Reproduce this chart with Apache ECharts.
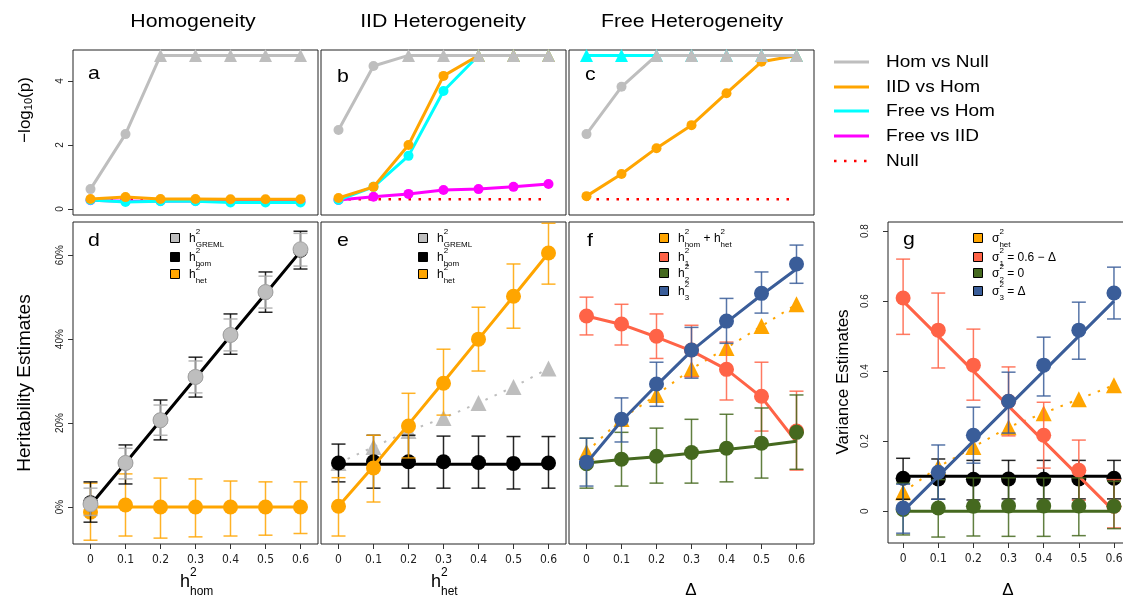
<!DOCTYPE html>
<html><head><meta charset="utf-8">
<script src="https://cdn.jsdelivr.net/npm/echarts@6/dist/echarts.min.js"></script>
<style>html,body{margin:0;padding:0;background:#fff}#c{width:1123px;height:601px}</style>
</head><body><div id="c"></div>
<script>
// ---------------- data ----------------
const xs = [0, 0.1, 0.2, 0.3, 0.4, 0.5, 0.6];
const xTickLabels = ['0', '0.1', '0.2', '0.3', '0.4', '0.5', '0.6'];
const pTicks = [0, 2, 4];
const pTickLabels = ['0', '2', '4'];
const hTicks = [0, 0.2, 0.4, 0.6];
const hTickLabels = ['0%', '20%', '40%', '60%'];
const vTicks = [0, 0.2, 0.4, 0.6, 0.8];
const vTickLabels = ['0', '0.2', '0.4', '0.6', '0.8'];
const CAP = 4.8;
const nullLine = [0.301, 0.301, 0.301, 0.301, 0.301, 0.301, 0.301];

// panel a  (-log10 p, homogeneity)
const aHomNull = [0.62, 2.34, 4.8, 4.8, 4.8, 4.8, 4.8];
const aIidHom  = [0.31, 0.37, 0.31, 0.31, 0.3, 0.3, 0.3];
const aFreeHom = [0.28, 0.22, 0.24, 0.24, 0.2, 0.2, 0.2];
const aFreeIid = [0.27, 0.24, 0.25, 0.25, 0.23, 0.23, 0.23];
// panel b  (IID heterogeneity)
const bHomNull = [2.47, 4.47, 4.8, 4.8, 4.8, 4.8, 4.8];
const bIidHom  = [0.34, 0.69, 2.0, 4.16, 4.8, 4.8, 4.8];
const bFreeHom = [0.28, 0.69, 1.66, 3.69, 4.8, 4.8, 4.8];
const bFreeIid = [0.28, 0.38, 0.47, 0.59, 0.62, 0.69, 0.78];
// panel c  (free heterogeneity)
const cHomNull = [2.34, 3.82, 4.8, 4.8, 4.8, 4.8, 4.8];
const cIidHom  = [0.4, 1.09, 1.9, 2.62, 3.62, 4.6, 4.8];
const cFreeHom = [4.8, 4.8, 4.8, 4.8, 4.8, 4.8, 4.8];

// panel d  (heritability, homogeneity)
const dGreml   = [0.007, 0.105, 0.207, 0.31, 0.41, 0.512, 0.614];
const dGremlLo = [-0.02, 0.067, 0.171, 0.272, 0.372, 0.474, 0.574];
const dGremlHi = [0.045, 0.14, 0.243, 0.348, 0.448, 0.55, 0.652];
const dHom     = [0.01, 0.105, 0.207, 0.31, 0.41, 0.512, 0.612];
const dHomLo   = [-0.036, 0.055, 0.16, 0.262, 0.364, 0.464, 0.567];
const dHomHi   = [0.06, 0.148, 0.255, 0.357, 0.46, 0.56, 0.657];
const dHomLine = [0.005, 0.105, 0.206, 0.307, 0.408, 0.508, 0.609];
const dHet     = [-0.012, 0.005, 0.0, 0.0, 0.0, 0.0, 0.0];
const dHetLo   = [-0.079, -0.069, -0.074, -0.071, -0.069, -0.067, -0.063];
const dHetHi   = [0.057, 0.079, 0.069, 0.067, 0.062, 0.06, 0.06];
const dHetLine = [0, 0, 0, 0, 0, 0, 0];
// panel e  (heritability, IID heterogeneity)
const eGreml   = [0.105, 0.143, 0.181, 0.212, 0.248, 0.286, 0.33];
const eHom     = [0.105, 0.108, 0.108, 0.108, 0.106, 0.104, 0.105];
const eHomLo   = [0.06, 0.045, 0.045, 0.045, 0.045, 0.043, 0.045];
const eHomHi   = [0.15, 0.171, 0.171, 0.169, 0.169, 0.168, 0.168];
const eHomLine = [0.102, 0.102, 0.102, 0.102, 0.102, 0.102, 0.102];
const eHet     = [0.002, 0.093, 0.193, 0.295, 0.4, 0.502, 0.605];
const eHetLo   = [-0.069, 0.012, 0.117, 0.219, 0.324, 0.426, 0.531];
const eHetHi   = [0.07, 0.171, 0.271, 0.376, 0.476, 0.579, 0.676];
const eHetLine = [0.002, 0.097, 0.197, 0.298, 0.4, 0.502, 0.605];
// panel f  (heritability, free heterogeneity)
const fSum     = [0.131, 0.21, 0.267, 0.329, 0.379, 0.431, 0.483];
const fH1      = [0.455, 0.436, 0.407, 0.374, 0.328, 0.264, 0.181];
const fH1Lo    = [0.41, 0.386, 0.354, 0.31, 0.255, 0.181, 0.088];
const fH1Hi    = [0.5, 0.483, 0.46, 0.433, 0.393, 0.345, 0.276];
const fH1Line  = [0.455, 0.435, 0.405, 0.372, 0.328, 0.262, 0.155];
const fH2      = [0.103, 0.114, 0.121, 0.13, 0.14, 0.152, 0.178];
const fH2Lo    = [0.045, 0.05, 0.057, 0.057, 0.06, 0.069, 0.09];
const fH2Hi    = [0.164, 0.178, 0.188, 0.209, 0.221, 0.236, 0.267];
const fH2Line  = [0.105, 0.113, 0.12, 0.128, 0.137, 0.146, 0.157];
const fH3      = [0.107, 0.209, 0.293, 0.374, 0.443, 0.509, 0.579];
const fH3Lo    = [0.05, 0.155, 0.24, 0.307, 0.39, 0.462, 0.533];
const fH3Hi    = [0.164, 0.26, 0.345, 0.428, 0.497, 0.56, 0.624];
const fH3Line  = [0.105, 0.205, 0.29, 0.372, 0.44, 0.505, 0.567];
// panel g  (variance estimates)
const gHet     = [0.054, 0.126, 0.183, 0.24, 0.28, 0.32, 0.36];
const gHom     = [0.094, 0.092, 0.091, 0.092, 0.091, 0.092, 0.094];
const gHomLo   = [0.034, 0.034, 0.032, 0.035, 0.035, 0.035, 0.035];
const gHomHi   = [0.151, 0.149, 0.145, 0.145, 0.145, 0.145, 0.145];
const gHomLine = [0.1, 0.1, 0.1, 0.1, 0.1, 0.1, 0.1];
const gS1      = [0.609, 0.517, 0.417, 0.314, 0.217, 0.117, 0.014];
const gS1Lo    = [0.505, 0.409, 0.317, 0.215, 0.123, 0.031, -0.048];
const gS1Hi    = [0.72, 0.623, 0.52, 0.412, 0.311, 0.203, 0.09];
const gS1Line  = [0.6, 0.5, 0.4, 0.3, 0.2, 0.1, 0];
const gS2      = [0.005, 0.009, 0.014, 0.015, 0.015, 0.015, 0.014];
const gS2Lo    = [-0.068, -0.074, -0.071, -0.072, -0.072, -0.07, -0.05];
const gS2Hi    = [0.08, 0.09, 0.095, 0.095, 0.095, 0.095, 0.085];
const gS2Line  = [0, 0, 0, 0, 0, 0, 0];
const gS3      = [0.009, 0.111, 0.217, 0.314, 0.417, 0.517, 0.623];
const gS3Lo    = [-0.063, 0.034, 0.137, 0.223, 0.329, 0.434, 0.549];
const gS3Hi    = [0.077, 0.189, 0.297, 0.397, 0.497, 0.597, 0.697];
const gS3Line  = [0, 0.1, 0.2, 0.3, 0.4, 0.5, 0.6];

// ---------------- styling ----------------
const C = {gray:'#BEBEBE', orange:'#FFA500', cyan:'#00FFFF', magenta:'#FF00FF', red:'#FF0000',
           tomato:'#FF6347', green:'#45691F', blue:'#3A5D99', black:'#000000'};
const FAM = '"Liberation Sans", Arial, sans-serif';
const NARROW = '"Liberation Sans Narrow", "DejaVu Sans Condensed", sans-serif';

const grids = [
  {left:73,  top:50,  width:245, height:165},
  {left:321, top:50,  width:245, height:165},
  {left:569, top:50,  width:245, height:165},
  {left:73,  top:222, width:245, height:322},
  {left:321, top:222, width:245, height:322},
  {left:569, top:222, width:245, height:322},
  {left:888, top:222, width:246, height:321}
].map(g => Object.assign({show:true, borderColor:'#222', borderWidth:1, backgroundColor:'#fff',
                          containLabel:false, outerBoundsMode:'none'}, g));

function xAx(gi, labels) {
  const g = gi === 6;
  return {type:'value', gridIndex:gi, position:'bottom', min: g ? -0.043 : -0.05, max: g ? 0.657 : 0.65,
    axisLine:{show:false, onZero:false}, splitLine:{show:false},
    axisTick:{show:labels, customValues:xs, length:5, lineStyle:{color:'#333'}},
    axisLabel:{show:labels, customValues:xs, margin:10, fontSize:12, fontFamily:NARROW, color:'#222',
      formatter:(v)=>xTickLabels[xs.findIndex(t=>Math.abs(t-v)<1e-9)]}};
}
function yAx(gi, min, max, ticks, labels, show, margin) {
  return {type:'value', gridIndex:gi, position:'left', min, max, axisLine:{show:false, onZero:false}, splitLine:{show:false},
    axisTick:{show:show, customValues:ticks, length:5, lineStyle:{color:'#333'}},
    axisLabel:{show:show, customValues:ticks, rotate:90, margin:margin||8, fontSize:10, fontFamily:FAM, color:'#222',
      formatter:(v)=>labels[ticks.findIndex(t=>Math.abs(t-v)<1e-9)]}};
}

let zc = 1;
const P = gi => ({xAxisIndex:gi, yAxisIndex:gi});
const pairs = ys => xs.map((x,i)=>[x, ys[i]]);
function lineSer(gi, ys, color, w, dotted) {
  return {type:'line', ...P(gi), data:pairs(ys), symbol:'none', showSymbol:false,
    lineStyle:{color, width:w, type: dotted ? [2.5, 7.5] : 'solid', cap:'butt'}, z:zc++, silent:true};
}
function ptSer(gi, ys, color, size, symbol, border) {
  return {type:'scatter', ...P(gi), data:pairs(ys), symbol:symbol||'circle', symbolSize:size,
    itemStyle:{color, opacity:1, borderColor:border||color, borderWidth:border?1:0}, z:zc++, silent:true};
}
function errSer(gi, lo, hi, color, cap) {
  const h = (cap||14)/2;
  return {type:'custom', ...P(gi), data:xs.map((x,i)=>[x, lo[i], hi[i]]), encode:{x:0, y:[1,2]}, z:zc++, silent:true,
    renderItem:(params, api) => {
      const a = api.coord([api.value(0), api.value(1)]);
      const b = api.coord([api.value(0), api.value(2)]);
      const st = {stroke:color, lineWidth:1.5, opacity:0.85};
      return {type:'group', children:[
        {type:'line', shape:{x1:a[0], y1:a[1], x2:b[0], y2:b[1]}, style:st},
        {type:'line', shape:{x1:a[0]-h, y1:a[1], x2:a[0]+h, y2:a[1]}, style:st},
        {type:'line', shape:{x1:b[0]-h, y1:b[1], x2:b[0]+h, y2:b[1]}, style:st}]};
    }};
}
function topSer(gi, ys, color) {
  return {type:'line', ...P(gi), showSymbol:true,
    data:xs.map((x,i)=>({value:[x, ys[i]], symbol: ys[i] >= CAP ? 'triangle' : 'circle', symbolSize: ys[i] >= CAP ? 13 : 10})),
    lineStyle:{color, width:3}, itemStyle:{color, opacity:1}, z:zc++, silent:true};
}

const series = [];
// a
series.push(lineSer(0, nullLine, C.red, 2.5, true), topSer(0, aFreeIid, C.magenta), topSer(0, aFreeHom, C.cyan), topSer(0, aIidHom, C.orange), topSer(0, aHomNull, C.gray));
// b
series.push(lineSer(1, nullLine, C.red, 2.5, true), topSer(1, bFreeIid, C.magenta), topSer(1, bFreeHom, C.cyan), topSer(1, bIidHom, C.orange), topSer(1, bHomNull, C.gray));
// c
series.push(lineSer(2, nullLine, C.red, 2.5, true), topSer(2, cIidHom, C.orange), topSer(2, cFreeHom, C.cyan), topSer(2, cHomNull, C.gray));
// d
series.push(errSer(3, dHetLo, dHetHi, C.orange), lineSer(3, dHetLine, C.orange, 3), ptSer(3, dHet, C.orange, 15),
            errSer(3, dHomLo, dHomHi, C.black), lineSer(3, dHomLine, C.black, 3), ptSer(3, dHom, C.black, 15),
            errSer(3, dGremlLo, dGremlHi, '#aaaaaa'), ptSer(3, dGreml, C.gray, 15, 'circle', '#a6a6a6'));
// e
series.push(lineSer(4, eGreml, C.gray, 2, true), ptSer(4, eGreml, C.gray, 16, 'triangle'),
            errSer(4, eHomLo, eHomHi, C.black), lineSer(4, eHomLine, C.black, 3), ptSer(4, eHom, C.black, 15),
            errSer(4, eHetLo, eHetHi, C.orange), lineSer(4, eHetLine, C.orange, 3), ptSer(4, eHet, C.orange, 15));
// f
series.push(lineSer(5, fSum, C.orange, 2, true), ptSer(5, fSum, C.orange, 16, 'triangle'),
            errSer(5, fH1Lo, fH1Hi, C.tomato), lineSer(5, fH1Line, C.tomato, 3), ptSer(5, fH1, C.tomato, 15),
            errSer(5, fH2Lo, fH2Hi, C.green), lineSer(5, fH2Line, C.green, 3), ptSer(5, fH2, C.green, 15),
            errSer(5, fH3Lo, fH3Hi, C.blue), lineSer(5, fH3Line, C.blue, 3), ptSer(5, fH3, C.blue, 15));
// g
series.push(lineSer(6, gHet, C.orange, 2, true), ptSer(6, gHet, C.orange, 16, 'triangle'),
            errSer(6, gHomLo, gHomHi, C.black), lineSer(6, gHomLine, C.black, 3), ptSer(6, gHom, C.black, 15),
            errSer(6, gS1Lo, gS1Hi, C.tomato), lineSer(6, gS1Line, C.tomato, 3), ptSer(6, gS1, C.tomato, 15),
            errSer(6, gS2Lo, gS2Hi, C.green), lineSer(6, gS2Line, C.green, 3), ptSer(6, gS2, C.green, 15),
            errSer(6, gS3Lo, gS3Hi, C.blue), lineSer(6, gS3Line, C.blue, 3), ptSer(6, gS3, C.blue, 15));

// ---------------- text helpers ----------------
const mctx = document.createElement('canvas').getContext('2d');
function tw(t, size) { mctx.font = size + 'px ' + FAM; return mctx.measureText(t).width; }
function txt(x, y, t, size, extra) {
  return Object.assign({type:'text', x, y, z:100, silent:true, style:{text:t, fontSize:size, fontFamily:FAM, fill:'#000',
    align:'left', verticalAlign:'middle', textAlign:'left', textVerticalAlign:'middle'}}, extra||{});
}
function mtext(o) {
  const size = o.size, ss = o.subSize || Math.round(size*0.7);
  let cx = 0; const kids = [];
  for (const s of o.segs) {
    if (typeof s === 'string') { kids.push(txt(cx, 0, s, size)); cx += tw(s, size); }
    else {
      let w = 0;
      if (s.sup) { kids.push(txt(cx, -size*(o.supK||0.5), s.sup, ss)); w = Math.max(w, tw(s.sup, ss)); }
      if (s.sub) { kids.push(txt(cx, size*(o.subK||0.38), s.sub, ss)); w = Math.max(w, tw(s.sub, ss)); }
      cx += w + (o.gap||0);
    }
  }
  const off = o.align === 'center' ? -cx/2 : 0;
  kids.forEach(k => k.x += off);
  return {type:'group', x:o.x, y:o.y, rotation:o.rotation||0, scaleX:o.scaleX||1, z:100, children:kids};
}
function sq(cx, cy, color) {
  return {type:'rect', z:100, silent:true, shape:{x:cx-4.5, y:cy-4.5, width:9, height:9}, style:{fill:color, stroke:'#000', lineWidth:1}};
}

const SX = 1.12;
const graphics = [
  mtext({x:193, y:22, segs:['Homogeneity'], size:19, align:'center', scaleX:SX}),
  mtext({x:443, y:22, segs:['IID Heterogeneity'], size:19, align:'center', scaleX:SX}),
  mtext({x:692, y:22, segs:['Free Heterogeneity'], size:19, align:'center', scaleX:SX}),
  mtext({x:25, y:110, segs:['\u2212log', {sub:'10'}, '(p)'], size:17, subSize:11, subK:0.25, align:'center', rotation:Math.PI/2}),
  mtext({x:25, y:383, segs:['Heritability Estimates'], size:19, align:'center', rotation:Math.PI/2}),
  mtext({x:843, y:382, segs:['Variance Estimates'], size:17, align:'center', rotation:Math.PI/2}),
  mtext({x:88, y:74, segs:['a'], size:19, scaleX:SX}),
  mtext({x:337, y:77, segs:['b'], size:19, scaleX:SX}),
  mtext({x:585, y:75, segs:['c'], size:19, scaleX:SX}),
  mtext({x:88, y:241, segs:['d'], size:19, scaleX:SX}),
  mtext({x:337, y:241, segs:['e'], size:19, scaleX:SX}),
  mtext({x:587, y:241, segs:['f'], size:19, scaleX:SX}),
  mtext({x:903, y:240, segs:['g'], size:19, scaleX:SX}),
  // x axis titles
  mtext({x:180, y:582, segs:['h', {sup:'2', sub:'hom'}], size:18, subSize:12, supK:0.5, subK:0.55}),
  mtext({x:431, y:582, segs:['h', {sup:'2', sub:'het'}], size:18, subSize:12, supK:0.5, subK:0.55}),
  mtext({x:691, y:590, segs:['\u0394'], size:17, align:'center'}),
  mtext({x:1008, y:590, segs:['\u0394'], size:17, align:'center'})
];
// top-right legend
const topLeg = [['Hom vs Null', C.gray], ['IID vs Hom', C.orange], ['Free vs Hom', C.cyan], ['Free vs IID', C.magenta], ['Null', C.red]];
const topLegY = [62, 87, 111, 136, 161];
topLeg.forEach((d, i) => {
  const y = topLegY[i];
  graphics.push({type:'line', z:100, silent:true, shape:{x1:834, y1:y, x2:869, y2:y},
    style:{stroke:d[1], lineWidth: i === 4 ? 2.5 : 3, lineDash: i === 4 ? [2.5, 7.5] : null}});
  graphics.push(mtext({x:886, y:y, segs:[d[0]], size:17, scaleX:SX}));
});
// panel legends
const LS = 12, LSS = 8;
function legRow(sqx, y, color, segs) {
  graphics.push(sq(sqx, y, color));
  graphics.push(mtext({x:sqx+14, y:y+1, segs, size:LS, subSize:LSS, supK:0.6, subK:0.5}));
}
legRow(175, 238, C.gray, ['h', {sup:'2', sub:'GREML'}]);
legRow(175, 257, C.black, ['h', {sup:'2', sub:'hom'}]);
legRow(175, 274, C.orange, ['h', {sup:'2', sub:'het'}]);
legRow(423, 238, C.gray, ['h', {sup:'2', sub:'GREML'}]);
legRow(423, 257, C.black, ['h', {sup:'2', sub:'hom'}]);
legRow(423, 274, C.orange, ['h', {sup:'2', sub:'het'}]);
legRow(664, 238, C.orange, ['h', {sup:'2', sub:'hom'}, ' + h', {sup:'2', sub:'het'}]);
legRow(664, 257, C.tomato, ['h', {sup:'2', sub:'1'}]);
legRow(664, 273, C.green, ['h', {sup:'2', sub:'2'}]);
legRow(664, 291, C.blue, ['h', {sup:'2', sub:'3'}]);
legRow(978, 238, C.orange, ['\u03C3', {sup:'2', sub:'het'}]);
legRow(978, 257, C.tomato, ['\u03C3', {sup:'2', sub:'1'}, ' = 0.6 \u2212 \u0394']);
legRow(978, 273, C.green, ['\u03C3', {sup:'2', sub:'2'}, ' = 0']);
legRow(978, 291, C.blue, ['\u03C3', {sup:'2', sub:'3'}, ' = \u0394']);

const chart = echarts.init(document.getElementById('c'), null, {renderer:'canvas'});
chart.setOption({
  animation:false,
  backgroundColor:'#fff',
  grid:grids,
  xAxis:[xAx(0,false), xAx(1,false), xAx(2,false), xAx(3,true), xAx(4,true), xAx(5,true), xAx(6,true)],
  yAxis:[yAx(0,-0.19,4.97,pTicks,pTickLabels,true,8), yAx(1,-0.19,4.97,pTicks,pTickLabels,false),
         yAx(2,-0.19,4.97,pTicks,pTickLabels,false),
         yAx(3,-0.088,0.679,hTicks,hTickLabels,true,8), yAx(4,-0.088,0.679,hTicks,hTickLabels,false),
         yAx(5,-0.088,0.679,hTicks,hTickLabels,false),
         yAx(6,-0.091,0.826,vTicks,vTickLabels,true,18)],
  series,
  graphic:graphics
});
</script></body></html>
